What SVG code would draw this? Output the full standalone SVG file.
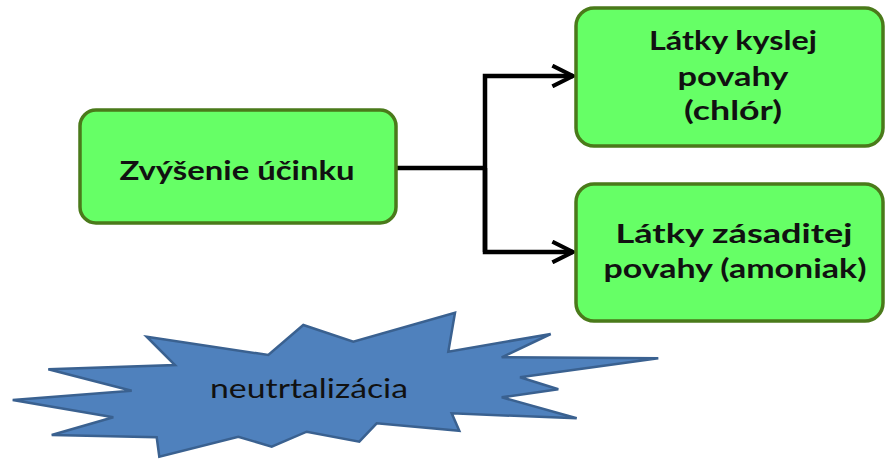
<svg xmlns="http://www.w3.org/2000/svg" width="885" height="459" viewBox="0 0 885 459">
<style>
.box{fill:#66ff66;stroke:#4a7a1a;stroke-width:3.5}
.lbl{font-family:Lato,"Open Sans","Liberation Sans",sans-serif;font-weight:bold;font-size:26px;fill:#111;text-anchor:middle}
.conn{fill:none;stroke:#000;stroke-width:4.5;stroke-linejoin:miter}
.star{fill:#4f81bd;stroke:#3a6190;stroke-width:2.5;stroke-linejoin:miter}
.stxt{font-family:Lato,"Open Sans","Liberation Sans",sans-serif;font-size:26px;fill:#111;text-anchor:middle}
</style>
<defs>
<marker id="arr" viewBox="0 0 12 12" refX="11" refY="6" markerWidth="5.5" markerHeight="5.5" markerUnits="strokeWidth" orient="auto">
<path d="M1,1 L11,6 L1,11" fill="none" stroke="#000" stroke-width="2"/>
</marker>
</defs>
<rect width="885" height="459" fill="#fff"/>
<g id="connectors">
<path class="conn" d="M396,168 H485"/>
<path class="conn" d="M485,252 V76 H573" marker-end="url(#arr)"/>
<path class="conn" d="M485,168 V252 H573" marker-end="url(#arr)"/>
</g>
<g id="zvysenie">
<rect class="box" x="80" y="110" width="316" height="113" rx="16"/>
<text class="lbl" x="237" y="180" textLength="235" lengthAdjust="spacingAndGlyphs">Zvýšenie účinku</text>
</g>
<g id="kysle">
<rect class="box" x="576" y="8" width="307" height="138" rx="18"/>
<text class="lbl" x="733" y="50" textLength="168" lengthAdjust="spacingAndGlyphs">Látky kyslej</text>
<text class="lbl" x="733" y="86" textLength="111" lengthAdjust="spacingAndGlyphs">povahy</text>
<text class="lbl" x="733" y="120" textLength="98" lengthAdjust="spacingAndGlyphs">(chlór)</text>
</g>
<g id="zasadite">
<rect class="box" x="576" y="184" width="307" height="137" rx="18"/>
<text class="lbl" x="734" y="243" textLength="237" lengthAdjust="spacingAndGlyphs">Látky zásaditej</text>
<text class="lbl" x="735" y="278" textLength="263" lengthAdjust="spacingAndGlyphs">povahy (amoniak)</text>
</g>
<g id="neutralizacia">
<polygon class="star" points="146.7,336.7 268.3,355 303.3,325 353.3,341.7 455,312.7 448.3,351.7 550.7,334 501.7,357.3 658.3,358.3 520,377.3 558.3,389.3 501.7,397.3 576.7,418.3 451.7,413.3 459.3,430.7 376.7,423.3 359.3,441.7 306.7,431.7 271.7,446.7 238.3,436.7 159.3,456.7 156.7,437.3 51.7,435 113.3,417.3 12.7,400 131.7,390.7 48.3,369.3 175,365"/>
<text class="stxt" x="309" y="398" textLength="198" lengthAdjust="spacingAndGlyphs">neutrtalizácia</text>
</g>
</svg>
